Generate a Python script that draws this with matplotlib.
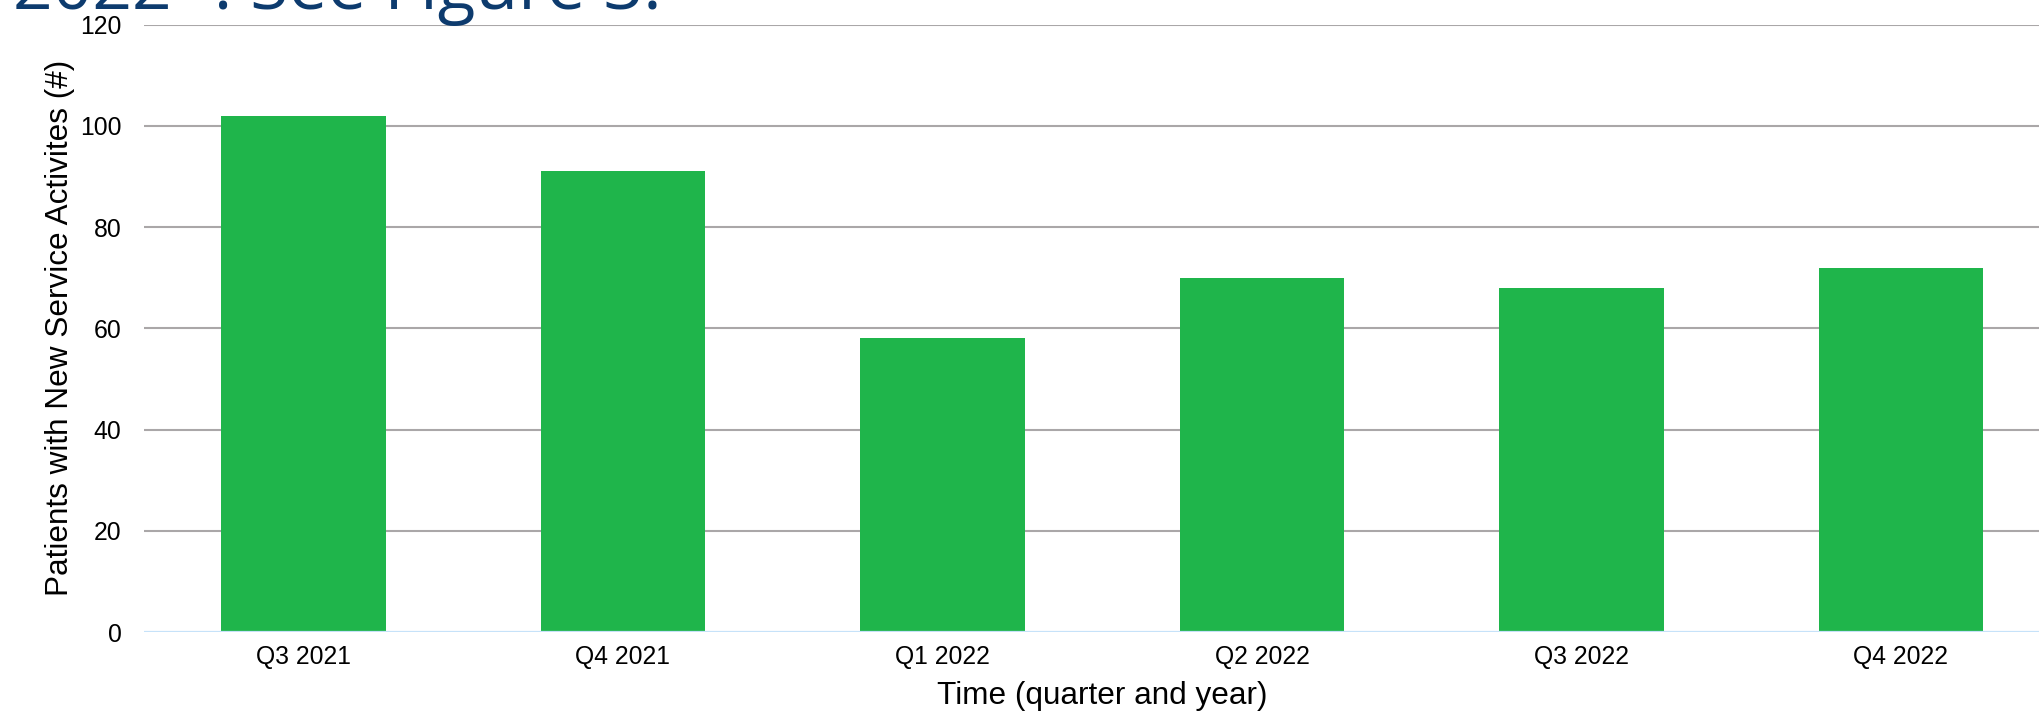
import matplotlib
matplotlib.use('Agg')
import matplotlib.pyplot as plt

quarters = ['Q3 2021', 'Q4 2021', 'Q1 2022', 'Q2 2022', 'Q3 2022', 'Q4 2022']
patients = [102, 91, 58, 70, 68, 72]
yticks = [0, 20, 40, 60, 80, 100, 120]

plt.rcParams['font.family'] = ['Liberation Sans', 'DejaVu Sans']

W, H = 2039, 712
fig = plt.figure(figsize=(W / 100, H / 100), dpi=100)

# axes in pixel terms: left 143.7, right ~2060 (runs past the edge), y0 at 632, y120 at 24.7
left, right, top, bottom = 143.7, 2060.7, 24.7, 632.0
ax = fig.add_axes([left / W, 1 - bottom / H, (right - left) / W, (bottom - top) / H])

x = range(len(quarters))
ax.bar(x, patients, width=0.516, color='#1fb54b', zorder=2)

ax.set_xlim(-0.5, len(quarters) - 0.5)
ax.set_ylim(0, 120)
ax.set_yticks(yticks)
ax.set_xticks(list(x))
ax.set_xticklabels(quarters)

for y in yticks[1:]:
    ax.axhline(y, color='#aaa7a8', lw=1.5, zorder=1)
ax.axhline(0, color='#c6e2f9', lw=1.6, zorder=3)

for s in ax.spines.values():
    s.set_visible(False)

ax.tick_params(axis='both', length=0, labelsize=17.8, colors='black')
ax.tick_params(axis='y', pad=16)
ax.tick_params(axis='x', pad=9.5)

ax.set_ylabel('Patients with New Service Activites (#)', fontsize=22.7)
ax.set_xlabel('Time (quarter and year)', fontsize=22.7)
ax.yaxis.set_label_coords((75.1 - left) / (right - left), 0.5)
ax.xaxis.set_label_coords(0.5, -(681.4 - bottom) / (bottom - top))

# clipped caption text from the page above the chart
fig.text(13 / W, 1 - 9 / H, '2022 \u201d. See Figure 3.', fontsize=50,
         family=['Open Sans', 'DejaVu Sans'], color='#0d3b6e', va='baseline')

fig.savefig('out.png', dpi=100)
